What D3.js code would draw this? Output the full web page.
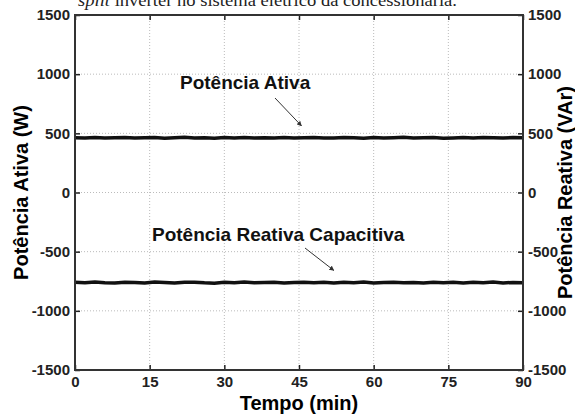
<!DOCTYPE html>
<html>
<head>
<meta charset="utf-8">
<script src="https://cdn.jsdelivr.net/npm/d3@7"></script>
<style>
  body { margin: 0; background: #fff; }
  svg { display: block; font-family: "Liberation Sans", Arial, sans-serif; }
</style>
</head>
<body>
<div id="chart"></div>
<script>
// Time axis (min)
const tempo = [0, 2, 4, 6, 8, 10, 12, 14, 16, 18, 20, 22, 24, 26, 28, 30, 32, 34, 36, 38, 40, 42, 44,
  46, 48, 50, 52, 54, 56, 58, 60, 62, 64, 66, 68, 70, 72, 74, 76, 78, 80, 82, 84, 86, 88, 90];

// Active power (W)
const potenciaAtiva = [463, 461, 465, 460, 462, 465, 460, 462, 464, 459, 463, 466, 461, 462, 459, 464,
  461, 465, 460, 463, 461, 464, 460, 462, 465, 461, 460, 464, 462, 459, 464, 461, 463, 466, 460, 462,
  465, 459, 461, 464, 461, 465, 462, 460, 464, 463];

// Capacitive reactive power (VAr)
const potenciaReativa = [-759, -763, -757, -762, -765, -758, -761, -764, -757, -760, -764, -759, -758,
  -763, -766, -759, -762, -757, -763, -760, -758, -764, -761, -758, -763, -759, -764, -759, -762, -757,
  -764, -760, -758, -763, -761, -765, -758, -763, -759, -764, -759, -762, -757, -764, -760, -762];

const xTicks = [0, 15, 30, 45, 60, 75, 90];
const yTicks = [-1500, -1000, -500, 0, 500, 1000, 1500];

const width = 575;
const height = 414;
const margin = { left: 75, right: 52, top: 15, bottom: 44 };

const svg = d3.select('#chart')
  .append('svg')
  .attr('width', width)
  .attr('height', height);

// caption line cut off at the top of the figure
const caption = svg.append('text')
  .attr('x', 78)
  .attr('y', 6)
  .attr('textLength', 379)
  .attr('lengthAdjust', 'spacingAndGlyphs')
  .style('font-family', '"Liberation Serif", "Times New Roman", serif')
  .style('font-size', '17px')
  .style('fill', '#222');
caption.append('tspan').style('font-style', 'italic').text('split');
caption.append('tspan').text(' inverter no sistema elétrico da concessionária.');

const x = d3.scaleLinear()
  .domain([0, 90])
  .range([margin.left, width - margin.right]);

const y = d3.scaleLinear()
  .domain([-1500, 1500])
  .range([height - margin.bottom, margin.top]);

// dotted grid
const grid = svg.append('g').attr('stroke', '#bbb').attr('stroke-dasharray', '1,2');
grid.selectAll('.gx')
  .data(xTicks.slice(1, -1))
  .enter()
  .append('line')
  .attr('x1', (d) => x(d))
  .attr('x2', (d) => x(d))
  .attr('y1', y(1500))
  .attr('y2', y(-1500));
grid.selectAll('.gy')
  .data(yTicks.slice(1, -1))
  .enter()
  .append('line')
  .attr('x1', x(0))
  .attr('x2', x(90))
  .attr('y1', (d) => y(d))
  .attr('y2', (d) => y(d));

// data lines
const line = d3.line()
  .x((d, i) => x(tempo[i]))
  .y((d) => y(d));

[potenciaAtiva, potenciaReativa].forEach((serie) => {
  svg.append('path')
    .datum(serie)
    .attr('fill', 'none')
    .attr('stroke', '#111')
    .attr('stroke-width', 3.5)
    .attr('d', line);
});

// axes, ticks pointing inwards like MATLAB
const fmt = (d) => String(d);

function styleAxis(g) {
  g.select('.domain').remove();
  g.selectAll('.tick line').attr('stroke', '#222').attr('stroke-width', 1.5);
  g.selectAll('.tick text')
    .style('font-size', '15px')
    .style('font-weight', 'bold')
    .attr('fill', '#222');
}

svg.append('g')
  .attr('transform', `translate(0, ${y(-1500)})`)
  .call(d3.axisBottom(x).tickValues(xTicks).tickFormat(fmt).tickSizeInner(-5).tickSizeOuter(0).tickPadding(6))
  .call(styleAxis);

svg.append('g')
  .attr('transform', `translate(0, ${y(1500)})`)
  .call(d3.axisTop(x).tickValues(xTicks).tickSizeInner(-5).tickSizeOuter(0).tickFormat(''))
  .call(styleAxis);

svg.append('g')
  .attr('transform', `translate(${x(0)}, 0)`)
  .call(d3.axisLeft(y).tickValues(yTicks).tickFormat(fmt).tickSizeInner(-5).tickSizeOuter(0).tickPadding(5))
  .call(styleAxis);

svg.append('g')
  .attr('transform', `translate(${x(90)}, 0)`)
  .call(d3.axisRight(y).tickValues(yTicks).tickFormat(fmt).tickSizeInner(-5).tickSizeOuter(0).tickPadding(5))
  .call(styleAxis);

// plot frame
svg.append('rect')
  .attr('x', x(0))
  .attr('y', y(1500))
  .attr('width', x(90) - x(0))
  .attr('height', y(-1500) - y(1500))
  .attr('fill', 'none')
  .attr('stroke', '#333')
  .attr('stroke-width', 2);

// axis titles
svg.append('text')
  .attr('x', (x(0) + x(90)) / 2)
  .attr('y', 410)
  .attr('text-anchor', 'middle')
  .style('font-size', '20px')
  .style('font-weight', 'bold')
  .text('Tempo (min)');

svg.append('text')
  .attr('transform', `translate(28, ${(y(1500) + y(-1500)) / 2}) rotate(-90)`)
  .attr('text-anchor', 'middle')
  .style('font-size', '20px')
  .style('font-weight', 'bold')
  .text('Potência Ativa (W)');

svg.append('text')
  .attr('transform', `translate(572, ${(y(1500) + y(-1500)) / 2}) rotate(-90)`)
  .attr('text-anchor', 'middle')
  .style('font-size', '20px')
  .style('font-weight', 'bold')
  .text('Potência Reativa (VAr)');

// annotations with arrows
svg.append('defs')
  .append('marker')
  .attr('id', 'arrow')
  .attr('viewBox', '0 0 10 10')
  .attr('refX', 9)
  .attr('refY', 5)
  .attr('markerWidth', 5)
  .attr('markerHeight', 5)
  .attr('orient', 'auto')
  .append('path')
  .attr('d', 'M0,0 L10,5 L0,10 z')
  .attr('fill', '#333');

const anotacoes = [
  { texto: 'Potência Ativa', tx: 180, ty: 89, valor: 462, t: 45.5, from: [275, 98] },
  { texto: 'Potência Reativa Capacitiva', tx: 152, ty: 241, valor: -760, t: 52, from: [305, 248] },
];

anotacoes.forEach((a) => {
  svg.append('text')
    .attr('x', a.tx)
    .attr('y', a.ty)
    .style('font-size', '19px')
    .style('font-weight', 'bold')
    .attr('fill', '#111')
    .text(a.texto);

  svg.append('line')
    .attr('x1', a.from[0])
    .attr('y1', a.from[1])
    .attr('x2', x(a.t))
    .attr('y2', y(a.valor) - 12)
    .attr('stroke', '#333')
    .attr('stroke-width', 1)
    .attr('marker-end', 'url(#arrow)');
});
</script>
</body>
</html>
